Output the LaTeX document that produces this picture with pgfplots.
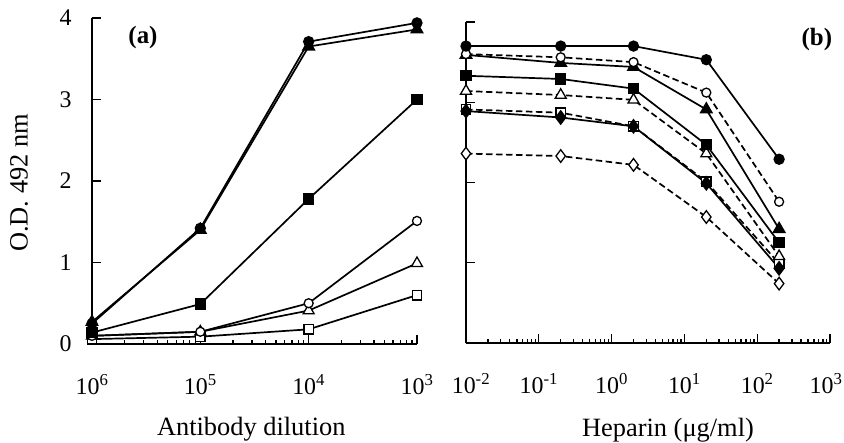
\documentclass[border=0pt]{standalone}
\usepackage{fontspec}
\setmainfont{Liberation Serif}
\usepackage{pgfplots}
\usepackage{pgfplotstable}
\pgfplotsset{compat=1.18}
\pgfkeys{/pgf/number format/assume math mode=true}

% panel (a): x = 1/dilution
\pgfplotstableread{
x     fc   ft   fs   oc   ot   os
1e-6  0.25 0.27 0.14 0.10 0.10 0.06
1e-5  1.42 1.40 0.49 0.15 0.15 0.09
1e-4  3.71 3.65 1.78 0.50 0.41 0.18
1e-3  3.94 3.86 3.00 1.51 0.99 0.60
}\dilution

% panel (b): heparin in ug/ml
\pgfplotstableread{
x     fc   oc   ft   fs   ot   os   fd   od
0.01  3.70 3.60 3.59 3.33 3.14 2.91 2.89 2.36
0.2   3.70 3.56 3.49 3.29 3.09 2.87 2.81 2.33
2     3.70 3.50 3.44 3.17 3.03 2.70 2.70 2.22
20    3.53 3.12 2.91 2.47 2.36 2.01 1.99 1.57
200   2.29 1.76 1.42 1.25 1.08 0.99 0.93 0.74
}\heparin

\pgfplotsset{
  every axis/.append style={
    scale only axis, ymin=0, ymax=4, ytick={0,1,2,3,4},
    axis x line=bottom, axis y line=left,
    axis line style={-, line width=1.5bp},
    tick align=inside,
    major tick length=9bp, minor tick length=4bp,
    tick style={black, line width=1.3bp},
    tick label style={font=\fontsize{24}{28}\selectfont},
    label style={font=\fontsize{26.5}{30}\selectfont},
    x tick label style={yshift=-27bp},
    y tick label style={xshift=-17bp},
    clip=false,
  },
}
\tikzset{
  serline/.style={black, line width=1.7bp},
  mfc/.style={serline, mark=*, mark size=4.8bp, mark options={solid}},
  moc/.style={serline, mark=*, mark size=4.5bp, mark options={solid, fill=white, line width=1.3bp}},
  mft/.style={serline, mark=triangle*, mark size=6.3bp, mark options={solid}},
  mot/.style={serline, mark=triangle*, mark size=6.3bp, mark options={solid, fill=white, line width=1.3bp}},
  mfs/.style={serline, mark=square*, mark size=4.8bp, mark options={solid}},
  mos/.style={serline, mark=square*, mark size=4.8bp, mark options={solid, fill=white, line width=1.3bp}},
  mfd/.style={serline, mark=diamond*, mark size=6.3bp, mark options={solid}},
  mod/.style={serline, mark=diamond*, mark size=6.3bp, mark options={solid, fill=white, line width=1.3bp}},
  dsh/.style={dash pattern=on 6.5bp off 3.5bp},
}

\begin{document}
\begin{tikzpicture}
\path[use as bounding box] (0,0) rectangle (844bp,443bp);

\begin{semilogxaxis}[
    at={(92bp,99bp)}, anchor=south west, width=325bp, height=326bp,
    xmin=1e-6, xmax=1e-3,
    xtick={1e-6,1e-5,1e-4,1e-3},
    xticklabels={10\textsuperscript{6},10\textsuperscript{5},10\textsuperscript{4},10\textsuperscript{3}},
    xlabel={Antibody dilution},
    xlabel style={at={(axis description cs:0.49,0)}, anchor=base, yshift=-91bp},
    ylabel={O.D. 492 nm},
    ylabel style={at={(axis description cs:-0.2246,0.494)}, anchor=center},
  ]
  \addplot[mos] table[x=x, y=os] {\dilution};
  \addplot[mot] table[x=x, y=ot] {\dilution};
  \addplot[moc] table[x=x, y=oc] {\dilution};
  \addplot[mfs] table[x=x, y=fs] {\dilution};
  \addplot[mft] table[x=x, y=ft] {\dilution};
  \addplot[mfc] table[x=x, y=fc] {\dilution};
  \node[font=\bfseries\fontsize{25}{28}\selectfont] at (rel axis cs:0.157,0.939) {(a)};
\end{semilogxaxis}

\begin{semilogxaxis}[
    at={(466bp,100bp)}, anchor=south west, width=364bp, height=321bp,
    xmin=1e-2, xmax=1e3,
    xtick={1e-2,1e-1,1e0,1e1,1e2,1e3},
    xticklabels={\kern10bp 10\textsuperscript{-2},10\textsuperscript{-1},10\textsuperscript{0},10\textsuperscript{1},10\textsuperscript{2},\kern-8bp 10\textsuperscript{3}},
    yticklabels={},
    xlabel={Heparin (μg/ml)},
    xlabel style={at={(axis description cs:0.555,0)}, anchor=base, yshift=-93bp},
  ]
  \addplot[mod, dsh] table[x=x, y=od] {\heparin};
  \addplot[mos, dsh] table[x=x, y=os] {\heparin};
  \addplot[mfd] table[x=x, y=fd] {\heparin};
  \addplot[mot, dsh] table[x=x, y=ot] {\heparin};
  \addplot[mfs] table[x=x, y=fs] {\heparin};
  \addplot[mft] table[x=x, y=ft] {\heparin};
  \addplot[moc, dsh] table[x=x, y=oc] {\heparin};
  \addplot[mfc] table[x=x, y=fc] {\heparin};
  \node[font=\bfseries\fontsize{25}{28}\selectfont] at (rel axis cs:0.964,0.947) {(b)};
\end{semilogxaxis}
\end{tikzpicture}
\end{document}
